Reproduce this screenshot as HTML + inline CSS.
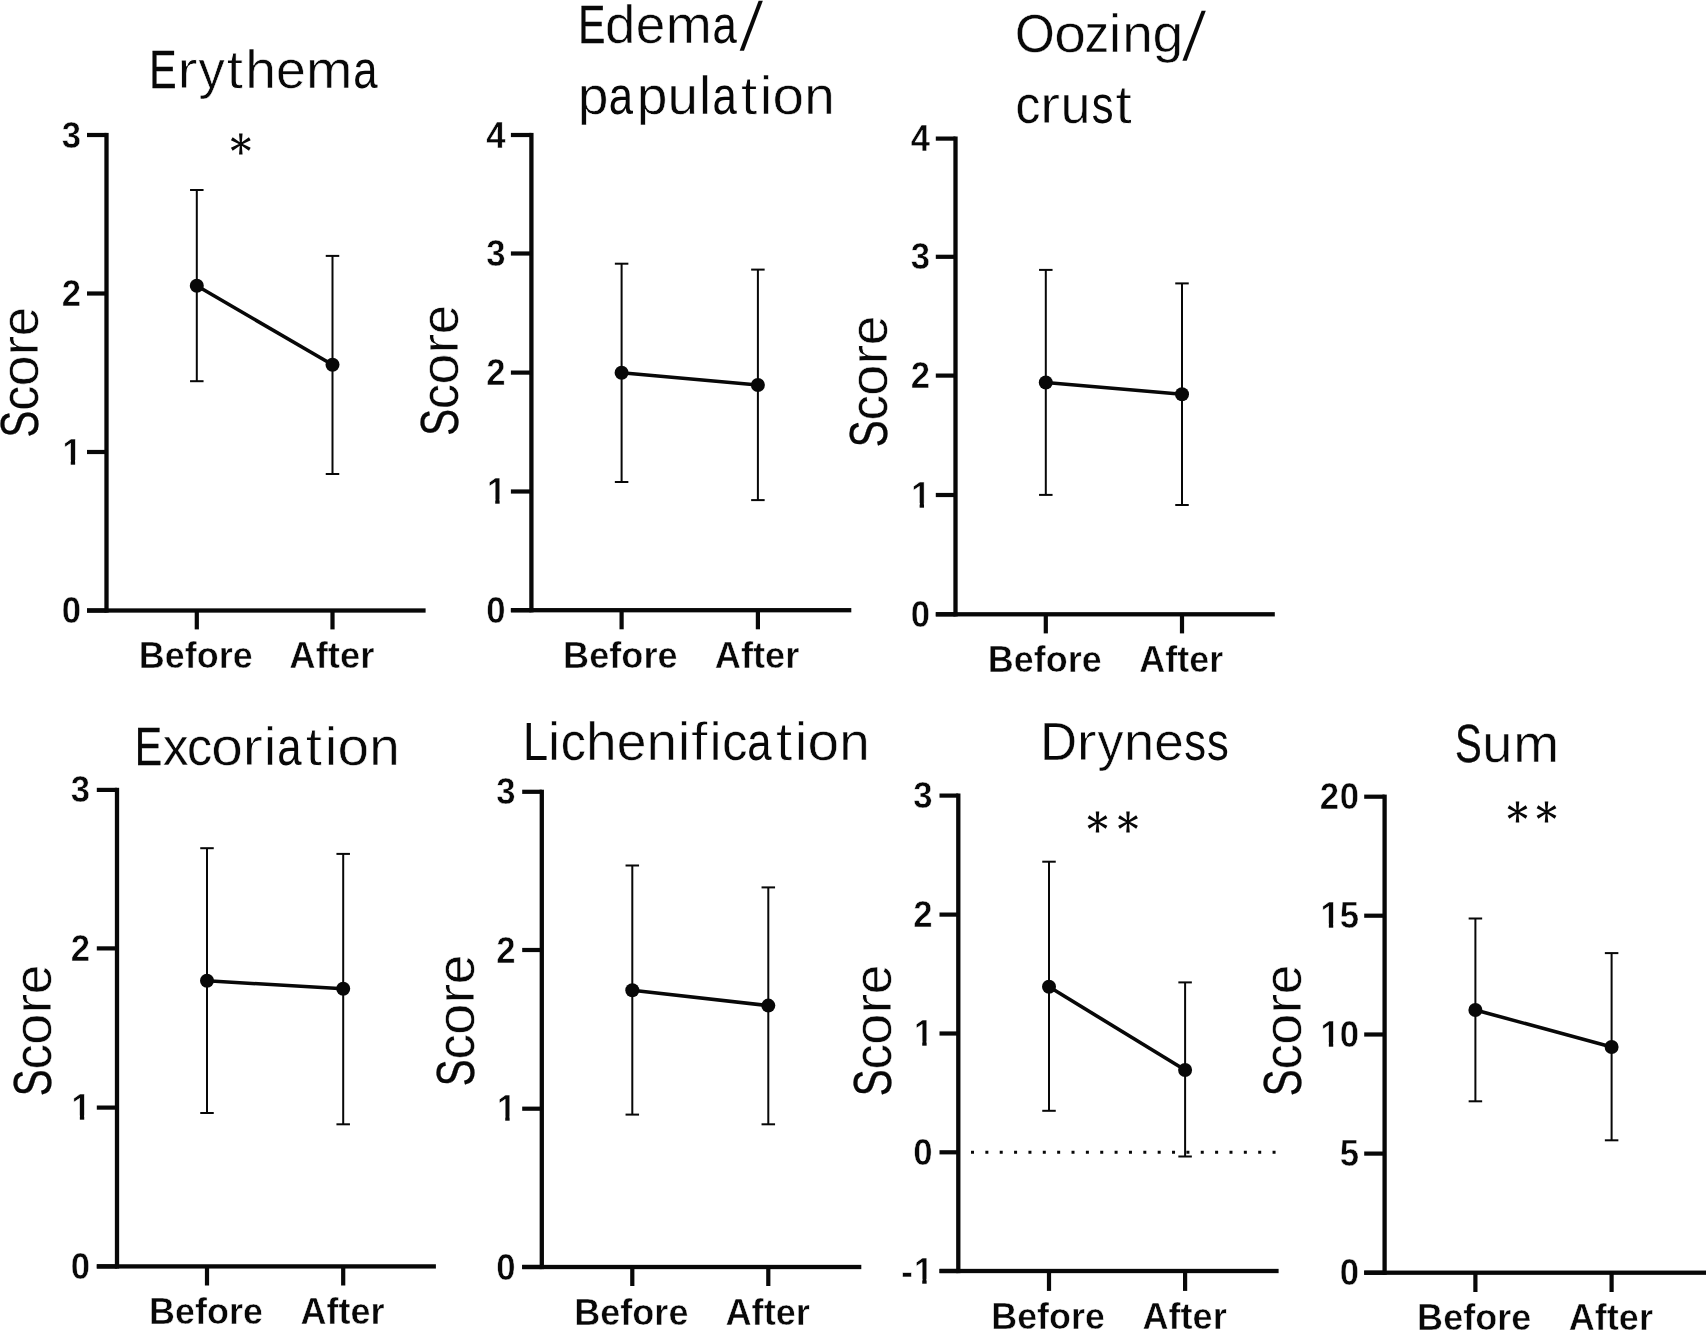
<!DOCTYPE html>
<html lang="en"><head><meta charset="utf-8"><title>Skin lesion scores before and after</title>
<style>
html,body{margin:0;padding:0;background:#fff;}
svg{display:block;will-change:transform;font-family:"Liberation Sans",sans-serif;}
text{white-space:pre;}
text.b{font-weight:bold;stroke:#fff;stroke-width:0.5px;}
text.t{stroke:#fff;stroke-width:0.55px;}
</style></head>
<body>
<svg width="1706" height="1331" viewBox="0 0 1706 1331" fill="#080808">
<rect x="0" y="0" width="1706" height="1331" fill="#ffffff"/>
<g id="erythema">
<rect x="104.35" y="132.90" width="4.3" height="479.75"/>
<rect x="87.00" y="608.35" width="338.60" height="4.3"/>
<rect x="87.00" y="132.90" width="19.50" height="4.2"/>
<text class="b" y="147.55" font-size="37.8"><tspan x="61.75" textLength="19.30" lengthAdjust="spacingAndGlyphs">3</tspan></text>
<rect x="87.00" y="291.40" width="19.50" height="4.2"/>
<text class="b" y="306.05" font-size="37.8"><tspan x="61.75" textLength="19.30" lengthAdjust="spacingAndGlyphs">2</tspan></text>
<rect x="87.00" y="449.90" width="19.50" height="4.2"/>
<text class="b" y="464.55" font-size="37.8"><tspan x="62.45" textLength="19.30" lengthAdjust="spacingAndGlyphs">1</tspan></text>
<rect x="63.64" y="459.94" width="7.10" height="5.41" fill="#fff"/>
<rect x="75.12" y="459.94" width="6.65" height="5.41" fill="#fff"/>
<rect x="87.00" y="608.40" width="19.50" height="4.2"/>
<text class="b" y="623.05" font-size="37.8"><tspan x="61.75" textLength="19.30" lengthAdjust="spacingAndGlyphs">0</tspan></text>
<rect x="194.70" y="610.50" width="4.2" height="18.90"/>
<rect x="330.40" y="610.50" width="4.2" height="18.90"/>
<rect x="195.80" y="190.00" width="2.0" height="191.20"/>
<rect x="190.05" y="189.00" width="13.5" height="2.0"/>
<rect x="190.05" y="380.20" width="13.5" height="2.0"/>
<rect x="331.50" y="255.90" width="2.0" height="218.10"/>
<rect x="325.75" y="254.90" width="13.5" height="2.0"/>
<rect x="325.75" y="473.00" width="13.5" height="2.0"/>
<line x1="196.80" y1="285.80" x2="332.50" y2="364.80" stroke="#080808" stroke-width="3.6"/>
<circle cx="196.80" cy="285.80" r="7.0"/><circle cx="332.50" cy="364.80" r="7.0"/>
<text class="t" y="88.20" font-size="54.5"><tspan x="149.24" textLength="27.34" lengthAdjust="spacingAndGlyphs" stroke="#080808" stroke-width="0.3">E</tspan><tspan x="176.98" textLength="20.78" lengthAdjust="spacingAndGlyphs" stroke-width="0.9">r</tspan><tspan x="198.46" textLength="26.21" lengthAdjust="spacingAndGlyphs">y</tspan><tspan x="226.48" textLength="16.66" lengthAdjust="spacingAndGlyphs" stroke-width="0.9">t</tspan><tspan x="245.31" textLength="30.69" lengthAdjust="spacingAndGlyphs">h</tspan><tspan x="275.97" textLength="29.79" lengthAdjust="spacingAndGlyphs">e</tspan><tspan x="306.07" textLength="46.42" lengthAdjust="spacingAndGlyphs">m</tspan><tspan x="353.16" textLength="24.25" lengthAdjust="spacingAndGlyphs" stroke="none">a</tspan></text>
<text class="t" transform="translate(38.30,435.60) rotate(-90)" y="0" font-size="53.5"><tspan x="-1.84" textLength="26.72" lengthAdjust="spacingAndGlyphs" stroke="#080808" stroke-width="0.3">S</tspan><tspan x="25.04" textLength="24.82" lengthAdjust="spacingAndGlyphs" stroke-width="0.3">c</tspan><tspan x="49.04" textLength="31.17" lengthAdjust="spacingAndGlyphs">o</tspan><tspan x="79.70" textLength="20.49" lengthAdjust="spacingAndGlyphs" stroke-width="0.9">r</tspan><tspan x="99.46" textLength="29.38" lengthAdjust="spacingAndGlyphs">e</tspan></text>
<text class="b" y="668.10" font-size="37.8"><tspan x="138.72" textLength="25.99" lengthAdjust="spacingAndGlyphs">B</tspan><tspan x="164.72" textLength="20.02" lengthAdjust="spacingAndGlyphs">e</tspan><tspan x="184.73" textLength="11.99" lengthAdjust="spacingAndGlyphs">f</tspan><tspan x="196.72" textLength="21.99" lengthAdjust="spacingAndGlyphs">o</tspan><tspan x="218.71" textLength="14.01" lengthAdjust="spacingAndGlyphs">r</tspan><tspan x="232.71" textLength="20.02" lengthAdjust="spacingAndGlyphs">e</tspan></text>
<text class="b" y="668.10" font-size="37.8"><tspan x="289.35" textLength="26.31" lengthAdjust="spacingAndGlyphs">A</tspan><tspan x="315.66" textLength="12.13" lengthAdjust="spacingAndGlyphs">f</tspan><tspan x="327.79" textLength="12.13" lengthAdjust="spacingAndGlyphs">t</tspan><tspan x="339.92" textLength="20.26" lengthAdjust="spacingAndGlyphs">e</tspan><tspan x="360.18" textLength="14.18" lengthAdjust="spacingAndGlyphs">r</tspan></text>
<path d="M241.70 144.00 L242.55 133.60 L239.05 133.60 L239.90 144.00Z M241.25 143.22 L232.67 137.28 L230.92 140.32 L240.35 144.78Z M240.35 143.22 L230.92 147.68 L232.67 150.72 L241.25 144.78Z M239.90 144.00 L239.05 154.40 L242.55 154.40 L241.70 144.00Z M240.35 144.78 L248.93 150.72 L250.68 147.68 L241.25 143.22Z M241.25 144.78 L250.68 140.32 L248.93 137.28 L240.35 143.22Z"/><circle cx="240.80" cy="144.00" r="2.1"/>
</g>
<g id="edema">
<rect x="529.25" y="132.90" width="4.3" height="479.45"/>
<rect x="510.90" y="608.05" width="340.40" height="4.3"/>
<rect x="510.90" y="132.90" width="20.50" height="4.2"/>
<text class="b" y="147.55" font-size="37.8"><tspan x="486.25" textLength="19.30" lengthAdjust="spacingAndGlyphs">4</tspan></text>
<rect x="510.90" y="251.40" width="20.50" height="4.2"/>
<text class="b" y="266.05" font-size="37.8"><tspan x="486.25" textLength="19.30" lengthAdjust="spacingAndGlyphs">3</tspan></text>
<rect x="510.90" y="370.50" width="20.50" height="4.2"/>
<text class="b" y="385.15" font-size="37.8"><tspan x="486.25" textLength="19.30" lengthAdjust="spacingAndGlyphs">2</tspan></text>
<rect x="510.90" y="489.40" width="20.50" height="4.2"/>
<text class="b" y="504.05" font-size="37.8"><tspan x="486.95" textLength="19.30" lengthAdjust="spacingAndGlyphs">1</tspan></text>
<rect x="488.14" y="499.44" width="7.10" height="5.41" fill="#fff"/>
<rect x="499.62" y="499.44" width="6.65" height="5.41" fill="#fff"/>
<rect x="510.90" y="608.10" width="20.50" height="4.2"/>
<text class="b" y="622.75" font-size="37.8"><tspan x="486.25" textLength="19.30" lengthAdjust="spacingAndGlyphs">0</tspan></text>
<rect x="619.50" y="610.20" width="4.2" height="19.10"/>
<rect x="755.80" y="610.20" width="4.2" height="19.10"/>
<rect x="620.60" y="263.70" width="2.0" height="218.30"/>
<rect x="614.85" y="262.70" width="13.5" height="2.0"/>
<rect x="614.85" y="481.00" width="13.5" height="2.0"/>
<rect x="756.90" y="269.60" width="2.0" height="230.50"/>
<rect x="751.15" y="268.60" width="13.5" height="2.0"/>
<rect x="751.15" y="499.10" width="13.5" height="2.0"/>
<line x1="621.60" y1="372.80" x2="757.90" y2="385.00" stroke="#080808" stroke-width="3.6"/>
<circle cx="621.60" cy="372.80" r="7.0"/><circle cx="757.90" cy="385.00" r="7.0"/>
<text class="t" y="42.80" font-size="54.5"><tspan x="578.17" textLength="27.13" lengthAdjust="spacingAndGlyphs" stroke="#080808" stroke-width="0.3">E</tspan><tspan x="604.97" textLength="30.43" lengthAdjust="spacingAndGlyphs">d</tspan><tspan x="635.84" textLength="29.55" lengthAdjust="spacingAndGlyphs">e</tspan><tspan x="665.70" textLength="46.05" lengthAdjust="spacingAndGlyphs">m</tspan><tspan x="712.40" textLength="24.25" lengthAdjust="spacingAndGlyphs" stroke="none">a</tspan></text>
<text transform="translate(739.80,50.32) skewX(-9.20) scale(1,1.2449)" font-size="54.5">/</text>
<text class="t" y="113.70" font-size="54.5"><tspan x="577.66" textLength="30.75" lengthAdjust="spacingAndGlyphs">p</tspan><tspan x="608.69" textLength="24.25" lengthAdjust="spacingAndGlyphs" stroke="none">a</tspan><tspan x="636.88" textLength="30.75" lengthAdjust="spacingAndGlyphs">p</tspan><tspan x="667.53" textLength="30.48" lengthAdjust="spacingAndGlyphs">u</tspan><tspan x="699.03" textLength="12.11" lengthAdjust="spacingAndGlyphs">l</tspan><tspan x="712.41" textLength="24.25" lengthAdjust="spacingAndGlyphs" stroke="none">a</tspan><tspan x="740.79" textLength="16.66" lengthAdjust="spacingAndGlyphs" stroke-width="0.9">t</tspan><tspan x="760.05" textLength="12.11" lengthAdjust="spacingAndGlyphs">i</tspan><tspan x="772.60" textLength="31.54" lengthAdjust="spacingAndGlyphs">o</tspan><tspan x="804.34" textLength="30.48" lengthAdjust="spacingAndGlyphs">n</tspan></text>
<text class="t" transform="translate(458.00,434.00) rotate(-90)" y="0" font-size="53.5"><tspan x="-1.85" textLength="26.81" lengthAdjust="spacingAndGlyphs" stroke="#080808" stroke-width="0.3">S</tspan><tspan x="25.12" textLength="24.90" lengthAdjust="spacingAndGlyphs" stroke-width="0.3">c</tspan><tspan x="49.20" textLength="31.27" lengthAdjust="spacingAndGlyphs">o</tspan><tspan x="79.99" textLength="20.49" lengthAdjust="spacingAndGlyphs" stroke-width="0.9">r</tspan><tspan x="99.77" textLength="29.47" lengthAdjust="spacingAndGlyphs">e</tspan></text>
<text class="b" y="668.15" font-size="37.8"><tspan x="563.11" textLength="26.11" lengthAdjust="spacingAndGlyphs">B</tspan><tspan x="589.22" textLength="20.11" lengthAdjust="spacingAndGlyphs">e</tspan><tspan x="609.33" textLength="12.04" lengthAdjust="spacingAndGlyphs">f</tspan><tspan x="621.37" textLength="22.09" lengthAdjust="spacingAndGlyphs">o</tspan><tspan x="643.46" textLength="14.07" lengthAdjust="spacingAndGlyphs">r</tspan><tspan x="657.53" textLength="20.11" lengthAdjust="spacingAndGlyphs">e</tspan></text>
<text class="b" y="668.15" font-size="37.8"><tspan x="714.66" textLength="26.24" lengthAdjust="spacingAndGlyphs">A</tspan><tspan x="740.90" textLength="12.10" lengthAdjust="spacingAndGlyphs">f</tspan><tspan x="753.00" textLength="12.10" lengthAdjust="spacingAndGlyphs">t</tspan><tspan x="765.10" textLength="20.21" lengthAdjust="spacingAndGlyphs">e</tspan><tspan x="785.31" textLength="14.14" lengthAdjust="spacingAndGlyphs">r</tspan></text>
</g>
<g id="oozing">
<rect x="953.35" y="136.50" width="4.3" height="479.95"/>
<rect x="935.80" y="612.15" width="339.00" height="4.3"/>
<rect x="935.80" y="136.50" width="19.70" height="4.2"/>
<text class="b" y="151.15" font-size="37.8"><tspan x="910.65" textLength="19.30" lengthAdjust="spacingAndGlyphs">4</tspan></text>
<rect x="935.80" y="254.70" width="19.70" height="4.2"/>
<text class="b" y="269.35" font-size="37.8"><tspan x="910.65" textLength="19.30" lengthAdjust="spacingAndGlyphs">3</tspan></text>
<rect x="935.80" y="373.50" width="19.70" height="4.2"/>
<text class="b" y="388.15" font-size="37.8"><tspan x="910.65" textLength="19.30" lengthAdjust="spacingAndGlyphs">2</tspan></text>
<rect x="935.80" y="492.90" width="19.70" height="4.2"/>
<text class="b" y="507.55" font-size="37.8"><tspan x="911.35" textLength="19.30" lengthAdjust="spacingAndGlyphs">1</tspan></text>
<rect x="912.54" y="502.94" width="7.10" height="5.41" fill="#fff"/>
<rect x="924.02" y="502.94" width="6.65" height="5.41" fill="#fff"/>
<rect x="935.80" y="612.20" width="19.70" height="4.2"/>
<text class="b" y="626.85" font-size="37.8"><tspan x="910.65" textLength="19.30" lengthAdjust="spacingAndGlyphs">0</tspan></text>
<rect x="1043.70" y="614.30" width="4.2" height="19.10"/>
<rect x="1179.90" y="614.30" width="4.2" height="19.10"/>
<rect x="1044.80" y="269.90" width="2.0" height="225.00"/>
<rect x="1039.05" y="268.90" width="13.5" height="2.0"/>
<rect x="1039.05" y="493.90" width="13.5" height="2.0"/>
<rect x="1181.00" y="283.40" width="2.0" height="221.60"/>
<rect x="1175.25" y="282.40" width="13.5" height="2.0"/>
<rect x="1175.25" y="504.00" width="13.5" height="2.0"/>
<line x1="1045.80" y1="382.50" x2="1182.00" y2="394.30" stroke="#080808" stroke-width="3.6"/>
<circle cx="1045.80" cy="382.50" r="7.0"/><circle cx="1182.00" cy="394.30" r="7.0"/>
<text class="t" y="52.00" font-size="54.5"><tspan x="1015.04" textLength="39.78" lengthAdjust="spacingAndGlyphs" stroke-width="0.3">O</tspan><tspan x="1054.26" textLength="31.63" lengthAdjust="spacingAndGlyphs">o</tspan><tspan x="1084.75" textLength="24.23" lengthAdjust="spacingAndGlyphs" stroke-width="0.3">z</tspan><tspan x="1109.02" textLength="12.11" lengthAdjust="spacingAndGlyphs">i</tspan><tspan x="1122.23" textLength="30.57" lengthAdjust="spacingAndGlyphs">n</tspan><tspan x="1152.47" textLength="30.84" lengthAdjust="spacingAndGlyphs">g</tspan></text>
<text transform="translate(1182.60,59.52) skewX(-9.42) scale(1,1.2449)" font-size="54.5">/</text>
<text class="t" y="122.90" font-size="54.5"><tspan x="1015.42" textLength="24.79" lengthAdjust="spacingAndGlyphs" stroke-width="0.3">c</tspan><tspan x="1039.80" textLength="20.47" lengthAdjust="spacingAndGlyphs" stroke-width="0.9">r</tspan><tspan x="1060.57" textLength="30.09" lengthAdjust="spacingAndGlyphs">u</tspan><tspan x="1091.68" textLength="21.80" lengthAdjust="spacingAndGlyphs" stroke="none">s</tspan><tspan x="1115.31" textLength="16.66" lengthAdjust="spacingAndGlyphs" stroke-width="0.9">t</tspan></text>
<text class="t" transform="translate(887.20,445.40) rotate(-90)" y="0" font-size="53.5"><tspan x="-1.86" textLength="26.91" lengthAdjust="spacingAndGlyphs" stroke="#080808" stroke-width="0.3">S</tspan><tspan x="25.22" textLength="25.00" lengthAdjust="spacingAndGlyphs" stroke-width="0.3">c</tspan><tspan x="49.39" textLength="31.40" lengthAdjust="spacingAndGlyphs">o</tspan><tspan x="80.35" textLength="20.49" lengthAdjust="spacingAndGlyphs" stroke-width="0.9">r</tspan><tspan x="100.16" textLength="29.58" lengthAdjust="spacingAndGlyphs">e</tspan></text>
<text class="b" y="671.60" font-size="37.8"><tspan x="987.73" textLength="25.97" lengthAdjust="spacingAndGlyphs">B</tspan><tspan x="1013.70" textLength="20.00" lengthAdjust="spacingAndGlyphs">e</tspan><tspan x="1033.69" textLength="11.97" lengthAdjust="spacingAndGlyphs">f</tspan><tspan x="1045.67" textLength="21.97" lengthAdjust="spacingAndGlyphs">o</tspan><tspan x="1067.63" textLength="13.99" lengthAdjust="spacingAndGlyphs">r</tspan><tspan x="1081.63" textLength="20.00" lengthAdjust="spacingAndGlyphs">e</tspan></text>
<text class="b" y="671.60" font-size="37.8"><tspan x="1139.27" textLength="25.96" lengthAdjust="spacingAndGlyphs">A</tspan><tspan x="1165.22" textLength="11.97" lengthAdjust="spacingAndGlyphs">f</tspan><tspan x="1177.19" textLength="11.97" lengthAdjust="spacingAndGlyphs">t</tspan><tspan x="1189.16" textLength="19.99" lengthAdjust="spacingAndGlyphs">e</tspan><tspan x="1209.16" textLength="13.99" lengthAdjust="spacingAndGlyphs">r</tspan></text>
</g>
<g id="excoriation">
<rect x="114.85" y="787.80" width="4.3" height="480.75"/>
<rect x="96.80" y="1264.25" width="339.10" height="4.3"/>
<rect x="96.80" y="787.80" width="20.20" height="4.2"/>
<text class="b" y="802.45" font-size="37.8"><tspan x="70.85" textLength="19.30" lengthAdjust="spacingAndGlyphs">3</tspan></text>
<rect x="96.80" y="946.30" width="20.20" height="4.2"/>
<text class="b" y="960.95" font-size="37.8"><tspan x="70.85" textLength="19.30" lengthAdjust="spacingAndGlyphs">2</tspan></text>
<rect x="96.80" y="1105.50" width="20.20" height="4.2"/>
<text class="b" y="1120.15" font-size="37.8"><tspan x="71.55" textLength="19.30" lengthAdjust="spacingAndGlyphs">1</tspan></text>
<rect x="72.74" y="1115.54" width="7.10" height="5.41" fill="#fff"/>
<rect x="84.22" y="1115.54" width="6.65" height="5.41" fill="#fff"/>
<rect x="96.80" y="1264.30" width="20.20" height="4.2"/>
<text class="b" y="1278.95" font-size="37.8"><tspan x="70.85" textLength="19.30" lengthAdjust="spacingAndGlyphs">0</tspan></text>
<rect x="204.90" y="1266.40" width="4.2" height="19.10"/>
<rect x="341.10" y="1266.40" width="4.2" height="19.10"/>
<rect x="206.00" y="848.20" width="2.0" height="264.80"/>
<rect x="200.25" y="847.20" width="13.5" height="2.0"/>
<rect x="200.25" y="1112.00" width="13.5" height="2.0"/>
<rect x="342.20" y="853.90" width="2.0" height="270.40"/>
<rect x="336.45" y="852.90" width="13.5" height="2.0"/>
<rect x="336.45" y="1123.30" width="13.5" height="2.0"/>
<line x1="207.00" y1="980.80" x2="343.20" y2="988.80" stroke="#080808" stroke-width="3.6"/>
<circle cx="207.00" cy="980.80" r="7.0"/><circle cx="343.20" cy="988.80" r="7.0"/>
<text class="t" y="765.10" font-size="54.5"><tspan x="134.74" textLength="27.30" lengthAdjust="spacingAndGlyphs" stroke="#080808" stroke-width="0.3">E</tspan><tspan x="162.88" textLength="25.41" lengthAdjust="spacingAndGlyphs" stroke-width="0.3">x</tspan><tspan x="186.90" textLength="25.13" lengthAdjust="spacingAndGlyphs" stroke-width="0.3">c</tspan><tspan x="211.21" textLength="31.56" lengthAdjust="spacingAndGlyphs">o</tspan><tspan x="242.24" textLength="20.75" lengthAdjust="spacingAndGlyphs" stroke-width="0.9">r</tspan><tspan x="263.88" textLength="12.11" lengthAdjust="spacingAndGlyphs">i</tspan><tspan x="277.22" textLength="24.25" lengthAdjust="spacingAndGlyphs" stroke="none">a</tspan><tspan x="305.63" textLength="16.66" lengthAdjust="spacingAndGlyphs" stroke-width="0.9">t</tspan><tspan x="324.90" textLength="12.11" lengthAdjust="spacingAndGlyphs">i</tspan><tspan x="337.45" textLength="31.56" lengthAdjust="spacingAndGlyphs">o</tspan><tspan x="369.22" textLength="30.50" lengthAdjust="spacingAndGlyphs">n</tspan></text>
<text class="t" transform="translate(50.90,1094.30) rotate(-90)" y="0" font-size="53.5"><tspan x="-1.85" textLength="26.87" lengthAdjust="spacingAndGlyphs" stroke="#080808" stroke-width="0.3">S</tspan><tspan x="25.18" textLength="24.96" lengthAdjust="spacingAndGlyphs" stroke-width="0.3">c</tspan><tspan x="49.31" textLength="31.35" lengthAdjust="spacingAndGlyphs">o</tspan><tspan x="80.21" textLength="20.49" lengthAdjust="spacingAndGlyphs" stroke-width="0.9">r</tspan><tspan x="100.01" textLength="29.54" lengthAdjust="spacingAndGlyphs">e</tspan></text>
<text class="b" y="1323.65" font-size="37.8"><tspan x="149.02" textLength="25.99" lengthAdjust="spacingAndGlyphs">B</tspan><tspan x="175.02" textLength="20.02" lengthAdjust="spacingAndGlyphs">e</tspan><tspan x="195.03" textLength="11.99" lengthAdjust="spacingAndGlyphs">f</tspan><tspan x="207.02" textLength="21.99" lengthAdjust="spacingAndGlyphs">o</tspan><tspan x="229.01" textLength="14.01" lengthAdjust="spacingAndGlyphs">r</tspan><tspan x="243.01" textLength="20.02" lengthAdjust="spacingAndGlyphs">e</tspan></text>
<text class="b" y="1323.65" font-size="37.8"><tspan x="300.56" textLength="25.99" lengthAdjust="spacingAndGlyphs">A</tspan><tspan x="326.55" textLength="11.98" lengthAdjust="spacingAndGlyphs">f</tspan><tspan x="338.54" textLength="11.98" lengthAdjust="spacingAndGlyphs">t</tspan><tspan x="350.52" textLength="20.02" lengthAdjust="spacingAndGlyphs">e</tspan><tspan x="370.54" textLength="14.01" lengthAdjust="spacingAndGlyphs">r</tspan></text>
</g>
<g id="lichenification">
<rect x="539.65" y="789.70" width="4.3" height="479.45"/>
<rect x="522.20" y="1264.85" width="339.10" height="4.3"/>
<rect x="522.20" y="789.70" width="19.60" height="4.2"/>
<text class="b" y="804.35" font-size="37.8"><tspan x="496.25" textLength="19.30" lengthAdjust="spacingAndGlyphs">3</tspan></text>
<rect x="522.20" y="947.90" width="19.60" height="4.2"/>
<text class="b" y="962.55" font-size="37.8"><tspan x="496.25" textLength="19.30" lengthAdjust="spacingAndGlyphs">2</tspan></text>
<rect x="522.20" y="1106.60" width="19.60" height="4.2"/>
<text class="b" y="1121.25" font-size="37.8"><tspan x="496.95" textLength="19.30" lengthAdjust="spacingAndGlyphs">1</tspan></text>
<rect x="498.14" y="1116.64" width="7.10" height="5.41" fill="#fff"/>
<rect x="509.62" y="1116.64" width="6.65" height="5.41" fill="#fff"/>
<rect x="522.20" y="1264.90" width="19.60" height="4.2"/>
<text class="b" y="1279.55" font-size="37.8"><tspan x="496.25" textLength="19.30" lengthAdjust="spacingAndGlyphs">0</tspan></text>
<rect x="630.20" y="1267.00" width="4.2" height="19.00"/>
<rect x="766.20" y="1267.00" width="4.2" height="19.00"/>
<rect x="631.30" y="865.50" width="2.0" height="249.10"/>
<rect x="625.55" y="864.50" width="13.5" height="2.0"/>
<rect x="625.55" y="1113.60" width="13.5" height="2.0"/>
<rect x="767.30" y="887.40" width="2.0" height="236.90"/>
<rect x="761.55" y="886.40" width="13.5" height="2.0"/>
<rect x="761.55" y="1123.30" width="13.5" height="2.0"/>
<line x1="632.30" y1="990.20" x2="768.30" y2="1005.60" stroke="#080808" stroke-width="3.6"/>
<circle cx="632.30" cy="990.20" r="7.0"/><circle cx="768.30" cy="1005.60" r="7.0"/>
<text class="t" y="759.70" font-size="54.5"><tspan x="522.91" textLength="25.05" lengthAdjust="spacingAndGlyphs" stroke="none">L</tspan><tspan x="548.12" textLength="12.11" lengthAdjust="spacingAndGlyphs">i</tspan><tspan x="560.82" textLength="25.12" lengthAdjust="spacingAndGlyphs" stroke-width="0.3">c</tspan><tspan x="586.14" textLength="30.63" lengthAdjust="spacingAndGlyphs">h</tspan><tspan x="616.73" textLength="29.73" lengthAdjust="spacingAndGlyphs">e</tspan><tspan x="646.60" textLength="30.49" lengthAdjust="spacingAndGlyphs">n</tspan><tspan x="677.93" textLength="12.11" lengthAdjust="spacingAndGlyphs">i</tspan><tspan x="691.06" textLength="16.66" lengthAdjust="spacingAndGlyphs" stroke-width="0.9">f</tspan><tspan x="709.46" textLength="12.11" lengthAdjust="spacingAndGlyphs">i</tspan><tspan x="722.17" textLength="25.12" lengthAdjust="spacingAndGlyphs" stroke-width="0.3">c</tspan><tspan x="747.25" textLength="24.25" lengthAdjust="spacingAndGlyphs" stroke="none">a</tspan><tspan x="775.65" textLength="16.66" lengthAdjust="spacingAndGlyphs" stroke-width="0.9">t</tspan><tspan x="794.92" textLength="12.11" lengthAdjust="spacingAndGlyphs">i</tspan><tspan x="807.47" textLength="31.55" lengthAdjust="spacingAndGlyphs">o</tspan><tspan x="839.22" textLength="30.49" lengthAdjust="spacingAndGlyphs">n</tspan></text>
<text class="t" transform="translate(474.20,1084.30) rotate(-90)" y="0" font-size="53.5"><tspan x="-1.85" textLength="26.87" lengthAdjust="spacingAndGlyphs" stroke="#080808" stroke-width="0.3">S</tspan><tspan x="25.18" textLength="24.96" lengthAdjust="spacingAndGlyphs" stroke-width="0.3">c</tspan><tspan x="49.31" textLength="31.35" lengthAdjust="spacingAndGlyphs">o</tspan><tspan x="80.21" textLength="20.49" lengthAdjust="spacingAndGlyphs" stroke-width="0.9">r</tspan><tspan x="100.01" textLength="29.54" lengthAdjust="spacingAndGlyphs">e</tspan></text>
<text class="b" y="1324.85" font-size="37.8"><tspan x="574.22" textLength="26.04" lengthAdjust="spacingAndGlyphs">B</tspan><tspan x="600.26" textLength="20.05" lengthAdjust="spacingAndGlyphs">e</tspan><tspan x="620.31" textLength="12.01" lengthAdjust="spacingAndGlyphs">f</tspan><tspan x="632.32" textLength="22.03" lengthAdjust="spacingAndGlyphs">o</tspan><tspan x="654.35" textLength="14.03" lengthAdjust="spacingAndGlyphs">r</tspan><tspan x="668.38" textLength="20.05" lengthAdjust="spacingAndGlyphs">e</tspan></text>
<text class="b" y="1324.85" font-size="37.8"><tspan x="725.46" textLength="26.15" lengthAdjust="spacingAndGlyphs">A</tspan><tspan x="751.61" textLength="12.06" lengthAdjust="spacingAndGlyphs">f</tspan><tspan x="763.66" textLength="12.06" lengthAdjust="spacingAndGlyphs">t</tspan><tspan x="775.72" textLength="20.14" lengthAdjust="spacingAndGlyphs">e</tspan><tspan x="795.86" textLength="14.09" lengthAdjust="spacingAndGlyphs">r</tspan></text>
</g>
<g id="dryness">
<rect x="956.15" y="793.50" width="4.3" height="479.65"/>
<rect x="939.50" y="1268.85" width="339.10" height="4.3"/>
<rect x="939.50" y="793.50" width="18.80" height="4.2"/>
<text class="b" y="808.15" font-size="37.8"><tspan x="913.25" textLength="19.30" lengthAdjust="spacingAndGlyphs">3</tspan></text>
<rect x="939.50" y="912.50" width="18.80" height="4.2"/>
<text class="b" y="927.15" font-size="37.8"><tspan x="913.25" textLength="19.30" lengthAdjust="spacingAndGlyphs">2</tspan></text>
<rect x="939.50" y="1031.40" width="18.80" height="4.2"/>
<text class="b" y="1046.05" font-size="37.8"><tspan x="913.95" textLength="19.30" lengthAdjust="spacingAndGlyphs">1</tspan></text>
<rect x="915.14" y="1041.44" width="7.10" height="5.41" fill="#fff"/>
<rect x="926.62" y="1041.44" width="6.65" height="5.41" fill="#fff"/>
<rect x="939.50" y="1150.20" width="18.80" height="4.2"/>
<text class="b" y="1164.85" font-size="37.8"><tspan x="913.25" textLength="19.30" lengthAdjust="spacingAndGlyphs">0</tspan></text>
<rect x="939.50" y="1268.90" width="18.80" height="4.2"/>
<text class="b" y="1283.55" font-size="37.8"><tspan x="901.29" textLength="11.56" lengthAdjust="spacingAndGlyphs">-</tspan><tspan x="913.95" textLength="19.30" lengthAdjust="spacingAndGlyphs">1</tspan></text>
<rect x="915.14" y="1278.94" width="7.10" height="5.41" fill="#fff"/>
<rect x="926.62" y="1278.94" width="6.65" height="5.41" fill="#fff"/>
<rect x="1046.90" y="1271.00" width="4.2" height="19.90"/>
<rect x="1183.00" y="1271.00" width="4.2" height="19.90"/>
<line x1="971.00" y1="1152.30" x2="1275.60" y2="1152.30" stroke="#080808" stroke-width="3" stroke-dasharray="3 11.36"/>
<rect x="1048.00" y="861.70" width="2.0" height="249.10"/>
<rect x="1042.25" y="860.70" width="13.5" height="2.0"/>
<rect x="1042.25" y="1109.80" width="13.5" height="2.0"/>
<rect x="1184.10" y="982.40" width="2.0" height="174.10"/>
<rect x="1178.35" y="981.40" width="13.5" height="2.0"/>
<rect x="1178.35" y="1155.50" width="13.5" height="2.0"/>
<line x1="1049.00" y1="986.80" x2="1185.10" y2="1070.00" stroke="#080808" stroke-width="3.6"/>
<circle cx="1049.00" cy="986.80" r="7.0"/><circle cx="1185.10" cy="1070.00" r="7.0"/>
<text class="t" y="759.50" font-size="54.5"><tspan x="1040.34" textLength="36.65" lengthAdjust="spacingAndGlyphs" stroke-width="0.3">D</tspan><tspan x="1076.16" textLength="20.56" lengthAdjust="spacingAndGlyphs" stroke-width="0.9">r</tspan><tspan x="1097.40" textLength="25.93" lengthAdjust="spacingAndGlyphs">y</tspan><tspan x="1124.00" textLength="30.22" lengthAdjust="spacingAndGlyphs">n</tspan><tspan x="1154.20" textLength="29.47" lengthAdjust="spacingAndGlyphs">e</tspan><tspan x="1184.14" textLength="21.80" lengthAdjust="spacingAndGlyphs" stroke="none">s</tspan><tspan x="1206.97" textLength="21.80" lengthAdjust="spacingAndGlyphs" stroke="none">s</tspan></text>
<text class="t" transform="translate(891.20,1094.30) rotate(-90)" y="0" font-size="53.5"><tspan x="-1.85" textLength="26.87" lengthAdjust="spacingAndGlyphs" stroke="#080808" stroke-width="0.3">S</tspan><tspan x="25.18" textLength="24.96" lengthAdjust="spacingAndGlyphs" stroke-width="0.3">c</tspan><tspan x="49.31" textLength="31.35" lengthAdjust="spacingAndGlyphs">o</tspan><tspan x="80.21" textLength="20.49" lengthAdjust="spacingAndGlyphs" stroke-width="0.9">r</tspan><tspan x="100.01" textLength="29.54" lengthAdjust="spacingAndGlyphs">e</tspan></text>
<text class="b" y="1329.05" font-size="37.8"><tspan x="991.23" textLength="25.92" lengthAdjust="spacingAndGlyphs">B</tspan><tspan x="1017.15" textLength="19.96" lengthAdjust="spacingAndGlyphs">e</tspan><tspan x="1037.12" textLength="11.95" lengthAdjust="spacingAndGlyphs">f</tspan><tspan x="1049.07" textLength="21.93" lengthAdjust="spacingAndGlyphs">o</tspan><tspan x="1070.99" textLength="13.97" lengthAdjust="spacingAndGlyphs">r</tspan><tspan x="1084.96" textLength="19.96" lengthAdjust="spacingAndGlyphs">e</tspan></text>
<text class="b" y="1329.05" font-size="37.8"><tspan x="1142.46" textLength="26.08" lengthAdjust="spacingAndGlyphs">A</tspan><tspan x="1168.55" textLength="12.03" lengthAdjust="spacingAndGlyphs">f</tspan><tspan x="1180.57" textLength="12.03" lengthAdjust="spacingAndGlyphs">t</tspan><tspan x="1192.60" textLength="20.09" lengthAdjust="spacingAndGlyphs">e</tspan><tspan x="1212.69" textLength="14.06" lengthAdjust="spacingAndGlyphs">r</tspan></text>
<path d="M1098.40 822.00 L1099.25 811.60 L1095.75 811.60 L1096.60 822.00Z M1097.95 821.22 L1089.37 815.28 L1087.62 818.32 L1097.05 822.78Z M1097.05 821.22 L1087.62 825.68 L1089.37 828.72 L1097.95 822.78Z M1096.60 822.00 L1095.75 832.40 L1099.25 832.40 L1098.40 822.00Z M1097.05 822.78 L1105.63 828.72 L1107.38 825.68 L1097.95 821.22Z M1097.95 822.78 L1107.38 818.32 L1105.63 815.28 L1097.05 821.22Z"/><circle cx="1097.50" cy="822.00" r="2.1"/>
<path d="M1128.90 822.00 L1129.75 811.60 L1126.25 811.60 L1127.10 822.00Z M1128.45 821.22 L1119.87 815.28 L1118.12 818.32 L1127.55 822.78Z M1127.55 821.22 L1118.12 825.68 L1119.87 828.72 L1128.45 822.78Z M1127.10 822.00 L1126.25 832.40 L1129.75 832.40 L1128.90 822.00Z M1127.55 822.78 L1136.13 828.72 L1137.88 825.68 L1128.45 821.22Z M1128.45 822.78 L1137.88 818.32 L1136.13 815.28 L1127.55 821.22Z"/><circle cx="1128.00" cy="822.00" r="2.1"/>
</g>
<g id="sum">
<rect x="1382.45" y="794.60" width="4.3" height="480.25"/>
<rect x="1364.20" y="1270.55" width="341.80" height="4.3"/>
<rect x="1364.20" y="794.60" width="20.40" height="4.2"/>
<text class="b" y="809.25" font-size="37.8"><tspan x="1319.85" textLength="19.30" lengthAdjust="spacingAndGlyphs">2</tspan><tspan x="1339.65" textLength="19.30" lengthAdjust="spacingAndGlyphs">0</tspan></text>
<rect x="1364.20" y="913.60" width="20.40" height="4.2"/>
<text class="b" y="928.25" font-size="37.8"><tspan x="1320.55" textLength="19.30" lengthAdjust="spacingAndGlyphs">1</tspan><tspan x="1339.65" textLength="19.30" lengthAdjust="spacingAndGlyphs">5</tspan></text>
<rect x="1321.74" y="923.64" width="7.10" height="5.41" fill="#fff"/>
<rect x="1333.22" y="923.64" width="6.65" height="5.41" fill="#fff"/>
<rect x="1364.20" y="1032.40" width="20.40" height="4.2"/>
<text class="b" y="1047.05" font-size="37.8"><tspan x="1320.55" textLength="19.30" lengthAdjust="spacingAndGlyphs">1</tspan><tspan x="1339.65" textLength="19.30" lengthAdjust="spacingAndGlyphs">0</tspan></text>
<rect x="1321.74" y="1042.44" width="7.10" height="5.41" fill="#fff"/>
<rect x="1333.22" y="1042.44" width="6.65" height="5.41" fill="#fff"/>
<rect x="1364.20" y="1151.50" width="20.40" height="4.2"/>
<text class="b" y="1166.15" font-size="37.8"><tspan x="1339.65" textLength="19.30" lengthAdjust="spacingAndGlyphs">5</tspan></text>
<rect x="1364.20" y="1270.60" width="20.40" height="4.2"/>
<text class="b" y="1285.25" font-size="37.8"><tspan x="1339.65" textLength="19.30" lengthAdjust="spacingAndGlyphs">0</tspan></text>
<rect x="1473.30" y="1272.70" width="4.2" height="19.30"/>
<rect x="1609.50" y="1272.70" width="4.2" height="19.30"/>
<rect x="1474.40" y="918.50" width="2.0" height="182.80"/>
<rect x="1468.65" y="917.50" width="13.5" height="2.0"/>
<rect x="1468.65" y="1100.30" width="13.5" height="2.0"/>
<rect x="1610.60" y="953.10" width="2.0" height="187.20"/>
<rect x="1604.85" y="952.10" width="13.5" height="2.0"/>
<rect x="1604.85" y="1139.30" width="13.5" height="2.0"/>
<line x1="1475.40" y1="1010.00" x2="1611.60" y2="1047.00" stroke="#080808" stroke-width="3.6"/>
<circle cx="1475.40" cy="1010.00" r="7.0"/><circle cx="1611.60" cy="1047.00" r="7.0"/>
<text class="t" y="761.60" font-size="54.5"><tspan x="1454.95" textLength="26.77" lengthAdjust="spacingAndGlyphs" stroke="#080808" stroke-width="0.3">S</tspan><tspan x="1482.13" textLength="30.18" lengthAdjust="spacingAndGlyphs">u</tspan><tspan x="1513.22" textLength="45.85" lengthAdjust="spacingAndGlyphs">m</tspan></text>
<text class="t" transform="translate(1301.30,1094.30) rotate(-90)" y="0" font-size="53.5"><tspan x="-1.85" textLength="26.87" lengthAdjust="spacingAndGlyphs" stroke="#080808" stroke-width="0.3">S</tspan><tspan x="25.18" textLength="24.96" lengthAdjust="spacingAndGlyphs" stroke-width="0.3">c</tspan><tspan x="49.31" textLength="31.35" lengthAdjust="spacingAndGlyphs">o</tspan><tspan x="80.21" textLength="20.49" lengthAdjust="spacingAndGlyphs" stroke-width="0.9">r</tspan><tspan x="100.01" textLength="29.54" lengthAdjust="spacingAndGlyphs">e</tspan></text>
<text class="b" y="1329.75" font-size="37.8"><tspan x="1417.12" textLength="26.02" lengthAdjust="spacingAndGlyphs">B</tspan><tspan x="1443.14" textLength="20.04" lengthAdjust="spacingAndGlyphs">e</tspan><tspan x="1463.17" textLength="12.00" lengthAdjust="spacingAndGlyphs">f</tspan><tspan x="1475.17" textLength="22.01" lengthAdjust="spacingAndGlyphs">o</tspan><tspan x="1497.18" textLength="14.02" lengthAdjust="spacingAndGlyphs">r</tspan><tspan x="1511.19" textLength="20.04" lengthAdjust="spacingAndGlyphs">e</tspan></text>
<text class="b" y="1329.75" font-size="37.8"><tspan x="1568.76" textLength="26.05" lengthAdjust="spacingAndGlyphs">A</tspan><tspan x="1594.82" textLength="12.01" lengthAdjust="spacingAndGlyphs">f</tspan><tspan x="1606.83" textLength="12.01" lengthAdjust="spacingAndGlyphs">t</tspan><tspan x="1618.84" textLength="20.06" lengthAdjust="spacingAndGlyphs">e</tspan><tspan x="1638.91" textLength="14.04" lengthAdjust="spacingAndGlyphs">r</tspan></text>
<path d="M1518.40 812.00 L1519.25 801.60 L1515.75 801.60 L1516.60 812.00Z M1517.95 811.22 L1509.37 805.28 L1507.62 808.32 L1517.05 812.78Z M1517.05 811.22 L1507.62 815.68 L1509.37 818.72 L1517.95 812.78Z M1516.60 812.00 L1515.75 822.40 L1519.25 822.40 L1518.40 812.00Z M1517.05 812.78 L1525.63 818.72 L1527.38 815.68 L1517.95 811.22Z M1517.95 812.78 L1527.38 808.32 L1525.63 805.28 L1517.05 811.22Z"/><circle cx="1517.50" cy="812.00" r="2.1"/>
<path d="M1547.40 812.00 L1548.25 801.60 L1544.75 801.60 L1545.60 812.00Z M1546.95 811.22 L1538.37 805.28 L1536.62 808.32 L1546.05 812.78Z M1546.05 811.22 L1536.62 815.68 L1538.37 818.72 L1546.95 812.78Z M1545.60 812.00 L1544.75 822.40 L1548.25 822.40 L1547.40 812.00Z M1546.05 812.78 L1554.63 818.72 L1556.38 815.68 L1546.95 811.22Z M1546.95 812.78 L1556.38 808.32 L1554.63 805.28 L1546.05 811.22Z"/><circle cx="1546.50" cy="812.00" r="2.1"/>
</g>
</svg>
</body></html>
